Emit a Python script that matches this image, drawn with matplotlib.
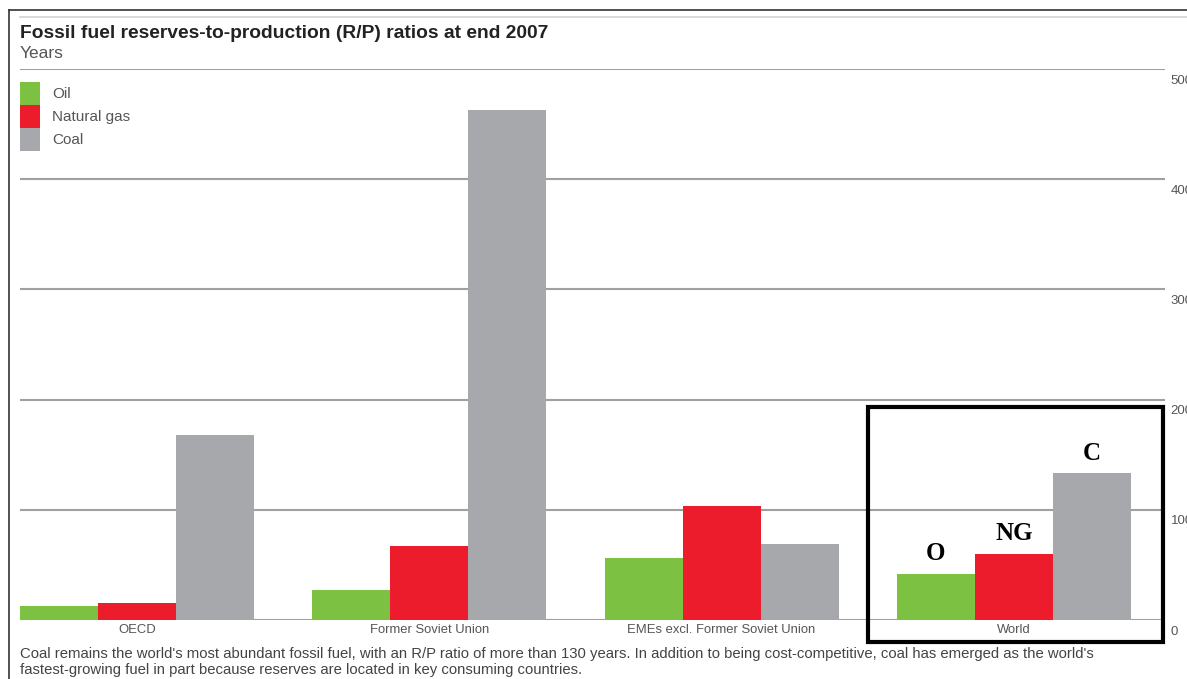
import matplotlib
matplotlib.use("Agg")
from matplotlib import pyplot as plt
from matplotlib.patches import Rectangle
from matplotlib.lines import Line2D
import numpy as np

regions = ["OECD", "Former Soviet Union", "EMEs excl. Former Soviet Union", "World"]
oil = [13, 27, 56, 42]
gas = [15, 67, 103, 60]
coal = [168, 463, 69, 133]
fuel_names = ["Oil", "Natural gas", "Coal"]
short_names = ["O", "NG", "C"]
y_ticks = [0, 100, 200, 300, 400, 500]

title = "Fossil fuel reserves-to-production (R/P) ratios at end 2007"
subtitle = "Years"
caption = ("Coal remains the world's most abundant fossil fuel, with an R/P ratio of more than 130 years. "
           "In addition to being cost-competitive, coal has emerged as the world's\n"
           "fastest-growing fuel in part because reserves are located in key consuming countries.")

colors = ["#7cc142", "#ec1c2d", "#a6a8ab"]
grid_col = "#a0a0a0"
text_col = "#555555"

plt.rcParams['font.family'] = ['Liberation Sans', 'DejaVu Sans']

W, H = 1187, 679
fig = plt.figure(figsize=(W / 100, H / 100), dpi=100)

def fx(px):
    return px / W

def fy(py):
    return 1 - py / H

ax = fig.add_axes([fx(20), fy(620), fx(1165) - fx(20), fy(69) - fy(620)])

x = np.arange(len(regions))
w = 0.267
series = [oil, gas, coal]
for k, vals in enumerate(series):
    ax.bar(x + (k - 1) * w, vals, w, color=colors[k], zorder=3)

ax.set_xlim(-1.5 * w, 3.517)
ax.set_ylim(0, 500)
for s in ["top", "left", "right", "bottom"]:
    ax.spines[s].set_visible(False)
for t in y_ticks:
    ax.axhline(t, color=grid_col, lw=1.5, zorder=1)

ax.set_xticks(x)
ax.set_xticklabels(regions, fontsize=9.4, color=text_col)
ax.set_yticks([])
ax.tick_params(axis="x", length=0, pad=3)

# value labels on the right, hanging under each gridline (cut by the page edge, as in the source)
for t in y_ticks:
    ax.annotate(str(t), xy=(1, t), xycoords=("axes fraction", "data"), xytext=(4, -4),
                textcoords="offset points", ha="left", va="top", fontsize=9.5,
                color=text_col, annotation_clip=False)

# O / NG / C labels over the World bars
wi = len(regions) - 1
for k, vals in enumerate(series):
    ax.annotate(short_names[k], (x[wi] + (k - 1) * w, vals[wi]), xytext=(0, 10),
                textcoords="offset points", ha="center", va="baseline",
                fontsize=18, fontweight="bold", family="Liberation Serif", color="black")

# highlight box round World
fig.add_artist(Rectangle((fx(868), fy(642)), fx(1163) - fx(868), fy(407) - fy(642),
                         transform=fig.transFigure, fill=False, ec="black", lw=3, zorder=10))

# legend, drawn by hand: stacked swatches with no gap
sw_top, sw_h, sw_w = 82, 23, 20
for k, name in enumerate(fuel_names):
    y0 = sw_top + k * sw_h
    fig.add_artist(Rectangle((fx(20), fy(y0 + sw_h)), fx(sw_w), sw_h / H,
                             transform=fig.transFigure, color=colors[k], lw=0))
    fig.text(fx(52), fy(y0 + sw_h / 2), name, fontsize=11, color=text_col, va="center")

# frame and rules
fig.add_artist(Line2D([fx(9), fx(9)], [fy(10), 0], color="#333333", lw=1.2))
fig.add_artist(Line2D([fx(9), 1], [fy(10), fy(10)], color="#333333", lw=1.2))
fig.add_artist(Line2D([fx(20), 1], [fy(17), fy(17)], color="#d8cfd8", lw=1.2))

fig.text(fx(20), fy(33), title, fontsize=13.9, fontweight="bold", color="#222222", va="center")
fig.text(fx(20), fy(53), subtitle, fontsize=12.5, color=text_col, va="center")
fig.text(fx(20), fy(662), caption, fontsize=10.7, color="#444444", va="center", linespacing=1.1)

fig.savefig("out.png", dpi=100)
